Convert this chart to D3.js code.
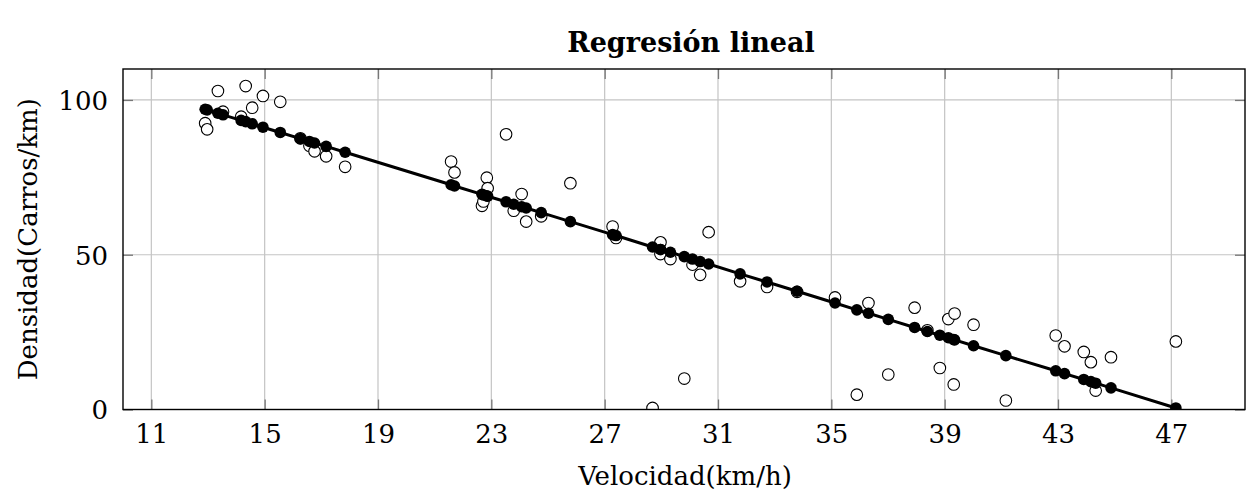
<!DOCTYPE html>
<html><head><meta charset="utf-8">
<script src="https://cdn.jsdelivr.net/npm/d3@7"></script>
<style>body{margin:0;background:#fff}svg{display:block}text{font-family:"DejaVu Serif",serif;fill:#000}</style>
</head><body>
<script>
const speeds = [12.90,12.97,13.35,13.53,14.17,14.33,14.56,14.94,15.55,16.26,16.58,16.76,17.17,17.84,
  21.58,21.70,22.67,22.72,22.84,22.87,23.52,23.79,24.07,24.23,24.76,25.79,27.28,27.40,
  28.69,28.97,28.97,29.32,29.81,30.10,30.37,30.67,31.78,32.73,33.79,35.13,35.90,36.31,37.01,
  37.94,38.39,38.83,39.13,39.35,39.32,40.02,41.16,42.92,43.23,43.91,44.16,44.33,44.87,47.16];
const densities = [92.5,90.5,102.9,96.2,94.6,104.5,97.5,101.3,99.4,87.6,85.2,83.4,81.8,78.4,
  80.1,76.6,65.8,67.2,74.9,71.5,88.9,64.2,69.6,60.7,62.4,73.1,59.1,55.4,
  0.5,54.0,50.2,48.6,10.0,46.8,43.5,57.3,41.4,39.6,38.0,36.2,4.8,34.4,11.3,
  32.9,25.6,13.4,29.2,31.0,8.1,27.4,2.9,23.9,20.4,18.6,15.3,6.1,16.9,22.0];
const predicted = [97.0,96.8,95.7,95.2,93.4,93.0,92.3,91.2,89.5,87.5,86.6,86.1,85.0,83.1,
  72.6,72.2,69.5,69.3,69.0,68.9,67.1,66.3,65.5,65.1,63.6,60.7,56.5,56.2,
  52.5,51.7,51.7,50.8,49.4,48.6,47.8,47.0,43.8,41.2,38.2,34.4,32.2,31.1,29.1,
  26.5,25.2,24.0,23.2,22.5,22.6,20.6,17.4,12.5,11.6,9.7,9.0,8.5,7.0,0.5];
const xTicks = [11,15,19,23,27,31,35,39,43,47];
const yTicks = [0,50,100];
const titleText = "Regresión lineal";
const xLabel = "Velocidad(km/h)";
const yLabel = "Densidad(Carros/km)";

const W = 1257, H = 495;
const L = 123, R = 1245, T = 69, B = 409.5;
const FONT = '"DejaVu Serif",serif';
const svg = d3.select("body").append("svg").attr("width", W).attr("height", H);
const x = d3.scaleLinear().domain([10, 49.6]).range([L, R]);
const y = d3.scaleLinear().domain([0, 110]).range([B, T]);

svg.append("defs").append("clipPath").attr("id","clip")
  .append("rect").attr("x",L).attr("y",T).attr("width",R-L).attr("height",B-T);

// grid
const grid = svg.append("g");
grid.selectAll("line.gx").data(xTicks).join("line")
  .attr("x1", d=>x(d)).attr("x2", d=>x(d)).attr("y1", T).attr("y2", B)
  .attr("stroke", "#c4c4c4").attr("stroke-width", 1.2);
grid.selectAll("line.gy").data(yTicks).join("line")
  .attr("y1", d=>y(d)).attr("y2", d=>y(d)).attr("x1", L).attr("x2", R)
  .attr("stroke", "#c4c4c4").attr("stroke-width", 1.2);

// ticks (inside, both sides)
const tl = 10;
const axB = svg.append("g").attr("transform", `translate(0,${B})`)
  .call(d3.axisBottom(x).tickValues(xTicks).tickSize(-tl).tickPadding(15));
const axT = svg.append("g").attr("transform", `translate(0,${T})`)
  .call(d3.axisTop(x).tickValues(xTicks).tickSize(-tl).tickFormat(""));
const axL = svg.append("g").attr("transform", `translate(${L},0)`)
  .call(d3.axisLeft(y).tickValues(yTicks).tickSize(-tl).tickPadding(15));
const axR = svg.append("g").attr("transform", `translate(${R},0)`)
  .call(d3.axisRight(y).tickValues(yTicks).tickSize(-tl).tickFormat(""));
[axB, axT, axL, axR].forEach(a => {
  a.select(".domain").remove();
  a.selectAll(".tick line").attr("stroke", "#777").attr("stroke-width", 1.3);
  a.selectAll(".tick text").style("font-family", FONT).style("font-size", "26px").attr("fill", "#000");
});
axB.selectAll(".tick text").attr("dy", "0.71em");
axL.selectAll(".tick text").attr("dy", "0.36em");

const plot = svg.append("g").attr("clip-path", "url(#clip)");
const idx = d3.range(speeds.length);

// observed (open circles)
plot.selectAll("circle.obs").data(idx).join("circle")
  .attr("cx", i=>x(speeds[i])).attr("cy", i=>y(densities[i])).attr("r", 5.8)
  .attr("fill", "#fff").attr("stroke", "#000").attr("stroke-width", 1.1);

// regression line + filled marks
const order = idx.slice().sort((a,b)=>speeds[a]-speeds[b]);
plot.append("path").datum(order)
  .attr("d", d3.line().x(i=>x(speeds[i])).y(i=>y(predicted[i])))
  .attr("fill", "none").attr("stroke", "#000").attr("stroke-width", 3);
plot.selectAll("circle.pred").data(idx).join("circle")
  .attr("cx", i=>x(speeds[i])).attr("cy", i=>y(predicted[i])).attr("r", 5.8)
  .attr("fill", "#000");

// frame
svg.append("rect").attr("x", L).attr("y", T).attr("width", R-L).attr("height", B-T)
  .attr("fill", "none").attr("stroke", "#000").attr("stroke-width", 1.4);

// labels
svg.append("text").attr("x", 691).attr("y", 52).attr("text-anchor", "middle")
  .style("font-family", FONT).style("font-size", "27px").style("font-weight", "bold").text(titleText);
svg.append("text").attr("x", 685).attr("y", 485).attr("text-anchor", "middle")
  .style("font-family", FONT).style("font-size", "26px").text(xLabel);
svg.append("text").attr("transform", `translate(37,${(T+B)/2}) rotate(-90)`).attr("text-anchor", "middle")
  .style("font-family", FONT).style("font-size", "26px").text(yLabel);
</script>
</body></html>
